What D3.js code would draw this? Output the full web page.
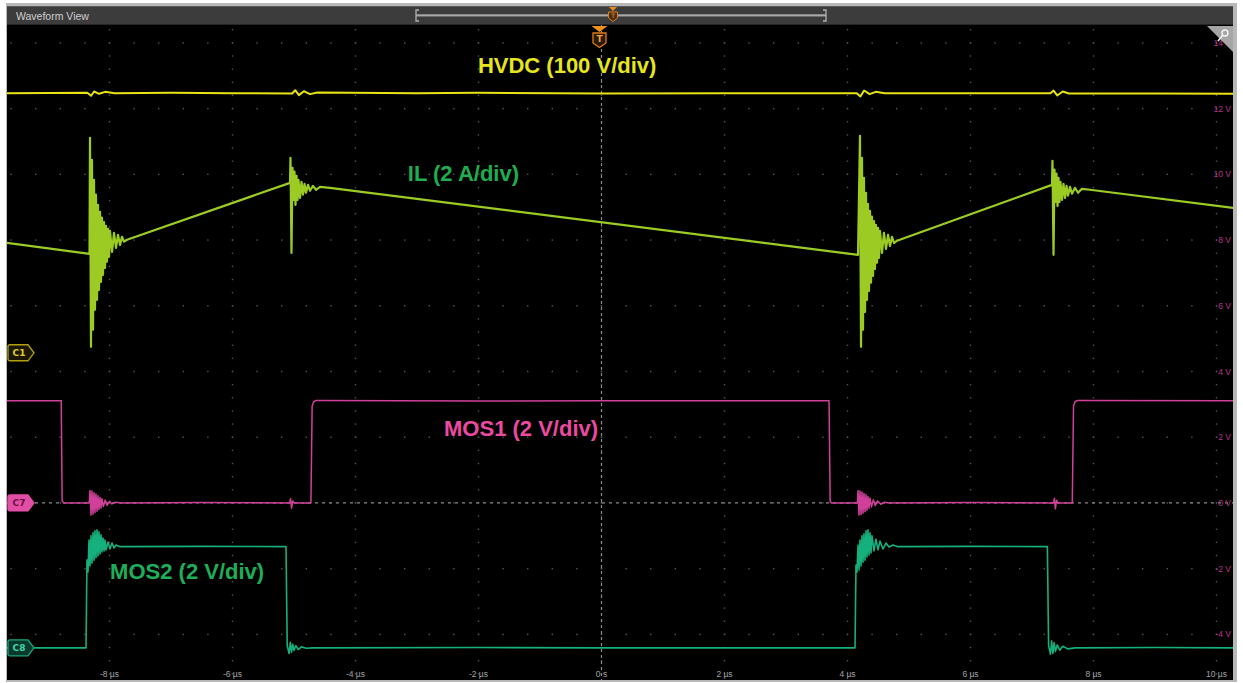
<!DOCTYPE html>
<html>
<head>
<meta charset="utf-8">
<script src="https://cdn.jsdelivr.net/npm/d3@7"></script>
<style>
  html,body{margin:0;padding:0;background:#ffffff;}
  svg{display:block;}
</style>
</head>
<body>
<svg id="chart" width="1243" height="683"></svg>
<script>
// ---------------- DATA ----------------
// time axis (µs) tick values and labels
const timeTicks = [-8, -6, -4, -2, 0, 2, 4, 6, 8, 10];
const timeTickLabels = ["-8 µs", "-6 µs", "-4 µs", "-2 µs", "0 s", "2 µs", "4 µs", "6 µs", "8 µs", "10 µs"];
// vertical axis (V, selected channel) tick values and labels
const voltTicks = [14, 12, 10, 8, 6, 4, 2, 0, -2, -4];
const voltTickLabels = ["14 V", "12 V", "10 V", "8 V", "6 V", "4 V", "2 V", "0 V", "-2 V", "-4 V"];

const seriesNames = ["HVDC (100 V/div)", "IL (2 A/div)", "MOS1 (2 V/div)", "MOS2 (2 V/div)"];
const channelNames = ["C1", "C7", "C8"];
const channelOffsets = [4.57, 0, -4.41];

// traces: [time µs, screen volts]
const hvdc = [
  [-9.70, 12.47], [-8.36, 12.48], [-8.30, 12.39], [-8.25, 12.52], [-8.17, 12.45], [-8.07, 12.51],
  [-7.92, 12.47], [-7.00, 12.48], [-6.00, 12.47], [-5.03, 12.46], [-4.98, 12.56], [-4.92, 12.41],
  [-4.84, 12.53], [-4.74, 12.44], [-4.62, 12.49], [-3.00, 12.47], [-2.00, 12.48], [0.00, 12.46],
  [2.00, 12.47], [4.15, 12.47], [4.21, 12.37], [4.27, 12.55], [4.36, 12.44], [4.46, 12.51],
  [4.60, 12.47], [6.00, 12.47], [7.30, 12.47], [7.35, 12.55], [7.41, 12.40], [7.50, 12.52],
  [7.60, 12.46], [9.00, 12.46], [10.30, 12.45]
];

const il = [
  [-9.70, 7.92], [-8.325, 7.58],
  [-8.317, 11.11], [-8.301, 4.75], [-8.285, 10.44], [-8.268, 5.27], [-8.252, 9.83], [-8.236, 5.88],
  [-8.220, 9.38], [-8.203, 6.18], [-8.187, 9.07], [-8.171, 6.48], [-8.154, 8.86], [-8.138, 6.73],
  [-8.122, 8.68], [-8.106, 6.94], [-8.089, 8.55], [-8.073, 7.15], [-8.057, 8.43], [-8.041, 7.34],
  [-8.024, 8.34], [-8.008, 7.49], [-7.992, 8.28], [-7.959, 7.64], [-7.927, 8.22], [-7.894, 7.76],
  [-7.862, 8.16], [-7.829, 7.85], [-7.797, 8.10], [-7.764, 7.95], [-7.715, 8.01],
  [-5.065, 9.74],
  [-5.057, 10.50], [-5.041, 7.61], [-5.024, 10.20], [-5.008, 9.22], [-4.992, 10.08], [-4.976, 9.07],
  [-4.959, 9.95], [-4.943, 9.22], [-4.927, 9.83], [-4.902, 9.28], [-4.878, 9.77], [-4.854, 9.38],
  [-4.829, 9.71], [-4.805, 9.44], [-4.772, 9.68], [-4.740, 9.50], [-4.691, 9.65], [-4.642, 9.53],
  [-4.577, 9.62], [-4.415, 9.59],
  [4.171, 7.55],
  [4.203, 11.17], [4.220, 4.75], [4.236, 10.50], [4.252, 5.27], [4.268, 9.89], [4.285, 5.81],
  [4.301, 9.44], [4.317, 6.18], [4.333, 9.10], [4.350, 6.45], [4.366, 8.89], [4.382, 6.70],
  [4.398, 8.71], [4.415, 6.91], [4.431, 8.58], [4.447, 7.12], [4.463, 8.46], [4.480, 7.31],
  [4.496, 8.37], [4.512, 7.46], [4.528, 8.28], [4.561, 7.61], [4.593, 8.22], [4.626, 7.73],
  [4.659, 8.16], [4.691, 7.82], [4.724, 8.10], [4.756, 7.91], [4.805, 7.98],
  [7.325, 9.68],
  [7.333, 10.41], [7.350, 7.55], [7.366, 10.14], [7.382, 9.16], [7.398, 10.02], [7.415, 9.04],
  [7.431, 9.89], [7.447, 9.16], [7.463, 9.77], [7.488, 9.22], [7.512, 9.71], [7.537, 9.28],
  [7.561, 9.65], [7.585, 9.35], [7.618, 9.62], [7.650, 9.41], [7.699, 9.59], [7.748, 9.44],
  [7.813, 9.56], [7.943, 9.53],
  [10.30, 8.97]
];

const mos1 = [
  [-9.70, 3.11], [-8.785, 3.11], [-8.770, 0.05], [-8.74, 0.00], [-8.33, 0.00],
  [-8.317, 0.38], [-8.301, -0.37], [-8.285, 0.36], [-8.268, -0.34], [-8.252, 0.31], [-8.236, -0.29],
  [-8.220, 0.27], [-8.203, -0.25], [-8.187, 0.22], [-8.171, -0.20], [-8.154, 0.17], [-8.138, -0.15],
  [-8.122, 0.13], [-8.10, -0.11], [-8.07, 0.09], [-8.04, -0.07], [-8.00, 0.05], [-7.96, -0.03],
  [-7.90, 0.02], [-7.80, 0.00], [-6.50, 0.01], [-5.07, 0.00],
  [-5.055, 0.13], [-5.04, -0.16], [-5.02, 0.06], [-5.00, 0.00],
  [-4.725, 0.00], [-4.705, 2.95], [-4.68, 3.08], [-4.64, 3.12], [-2.00, 3.10], [0.00, 3.11],
  [3.70, 3.11], [3.718, 0.05], [3.74, 0.00], [4.16, 0.00],
  [4.171, 0.38], [4.187, -0.37], [4.203, 0.36], [4.220, -0.35], [4.236, 0.33], [4.252, -0.31],
  [4.268, 0.29], [4.285, -0.27], [4.301, 0.25], [4.317, -0.22], [4.333, 0.20], [4.350, -0.17],
  [4.366, 0.15], [4.39, -0.12], [4.42, 0.10], [4.45, -0.08], [4.49, 0.06], [4.54, -0.04],
  [4.60, 0.02], [4.68, 0.00], [6.00, 0.01], [7.35, 0.00],
  [7.365, 0.14], [7.38, -0.18], [7.40, 0.08], [7.42, 0.00],
  [7.655, 0.00], [7.675, 2.95], [7.70, 3.08], [7.74, 3.12], [10.30, 3.11]
];

const mos2 = [
  [-9.70, -4.41], [-8.382, -4.41],
  [-8.366, -1.74], [-8.350, -2.10], [-8.333, -1.13], [-8.317, -1.92], [-8.301, -1.00], [-8.285, -1.83],
  [-8.268, -0.91], [-8.252, -1.74], [-8.236, -0.85], [-8.220, -1.67], [-8.203, -0.82], [-8.187, -1.61],
  [-8.171, -0.88], [-8.154, -1.55], [-8.138, -0.97], [-8.122, -1.49], [-8.106, -1.07], [-8.089, -1.46],
  [-8.073, -1.13], [-8.057, -1.43], [-8.024, -1.19], [-7.992, -1.40], [-7.959, -1.22], [-7.927, -1.37],
  [-7.894, -1.28], [-7.829, -1.33], [-6.50, -1.32],
  [-5.13, -1.33], [-5.11, -4.35], [-5.08, -4.58], [-5.06, -4.24], [-5.04, -4.54], [-5.02, -4.30],
  [-5.00, -4.49], [-4.97, -4.34], [-4.93, -4.46], [-4.88, -4.38], [-4.80, -4.42], [-4.70, -4.41],
  [-2.00, -4.40], [0.00, -4.41], [2.00, -4.41],
  [4.122, -4.41],
  [4.138, -1.89], [4.154, -2.10], [4.171, -1.28], [4.187, -2.04], [4.203, -1.13], [4.220, -1.92],
  [4.236, -1.00], [4.252, -1.80], [4.268, -0.94], [4.285, -1.74], [4.301, -0.85], [4.317, -1.64],
  [4.333, -0.82], [4.350, -1.58], [4.366, -0.91], [4.382, -1.52], [4.398, -1.00], [4.431, -1.46],
  [4.463, -1.10], [4.496, -1.43], [4.528, -1.16], [4.577, -1.40], [4.626, -1.22], [4.675, -1.34],
  [4.740, -1.28], [4.821, -1.33], [6.00, -1.32],
  [7.25, -1.33], [7.27, -4.35], [7.30, -4.60], [7.32, -4.20], [7.34, -4.58], [7.36, -4.25],
  [7.38, -4.52], [7.41, -4.32], [7.45, -4.48], [7.50, -4.36], [7.58, -4.44], [7.70, -4.41],
  [9.00, -4.40], [10.30, -4.41]
];

// ---------------- LAYOUT / STYLE ----------------
const plot = {left: 7, right: 1233, top: 25, bottom: 680};
const x = d3.scaleLinear().domain([-10, 10]).range([-13.5, 1216.5]);
const y = d3.scaleLinear().domain([-4, 12]).range([634.4, 108.6]);

const svg = d3.select("#chart");

// window frame
svg.append("rect").attr("x", 0).attr("y", 0).attr("width", 1243).attr("height", 683).attr("fill", "#ffffff");
svg.append("rect").attr("x", 6).attr("y", 3).attr("width", 1231).attr("height", 679)
  .attr("fill", "#b8b8b8");
// header bar
const hdr = svg.append("g");
hdr.append("rect").attr("x", 7).attr("y", 6).attr("width", 1226).attr("height", 19).attr("fill", "#3c3c3c");
hdr.append("rect").attr("x", 7).attr("y", 6).attr("width", 1226).attr("height", 1).attr("fill", "#5a5a5a");
hdr.append("rect").attr("x", 7).attr("y", 24).attr("width", 1226).attr("height", 1).attr("fill", "#262626");
hdr.append("text").attr("x", 16).attr("y", 19.5).text("Waveform View")
  .attr("font-family", "Liberation Sans, Arial, sans-serif").attr("font-size", 10.5)
  .attr("fill", "#cfcfcf");
// timeline overview bar
hdr.append("line").attr("x1", 416).attr("x2", 826).attr("y1", 15.5).attr("y2", 15.5)
  .attr("stroke", "#9a9a9a").attr("stroke-width", 2);
hdr.append("line").attr("x1", 416).attr("x2", 826).attr("y1", 15).attr("y2", 15)
  .attr("stroke", "#cfcfcf").attr("stroke-width", 0.6);
[[416, 1], [826, -1]].forEach(([bx, dir]) => {
  hdr.append("path").attr("d", `M${bx + 3 * dir},10 L${bx},10 L${bx},21 L${bx + 3 * dir},21`)
    .attr("fill", "none").attr("stroke", "#b0b0b0").attr("stroke-width", 1.3);
});
hdr.append("path").attr("d", "M609,7 L617,7 L613,11 Z").attr("fill", "#f08a1c");
hdr.append("path").attr("d", "M608.5,12 L617.5,12 L617.5,18 L613,21.5 L608.5,18 Z")
  .attr("fill", "#4a3010").attr("stroke", "#e07c18").attr("stroke-width", 1);
hdr.append("text").attr("x", 613).attr("y", 18).attr("text-anchor", "middle").text("T")
  .attr("font-family", "DejaVu Sans, sans-serif").attr("font-size", 6).attr("fill", "#f0a040");

// plot background
svg.append("rect").attr("x", plot.left).attr("y", plot.top)
  .attr("width", plot.right - plot.left).attr("height", plot.bottom - plot.top).attr("fill", "#000000");

svg.append("defs").append("clipPath").attr("id", "clip")
  .append("rect").attr("x", plot.left).attr("y", plot.top)
  .attr("width", plot.right - plot.left).attr("height", plot.bottom - plot.top);

const g = svg.append("g").attr("clip-path", "url(#clip)");

// grid dots
const gridCol = "#545454";
const tMin = x.invert(plot.left), tMax = x.invert(plot.right);
const vMin = y.invert(plot.bottom), vMax = y.invert(plot.top);
const dots = [];
timeTicks.forEach(t => {
  d3.range(Math.ceil(vMin / 0.4) * 0.4, vMax, 0.4).forEach(v => dots.push([t, v]));
});
voltTicks.forEach(v => {
  d3.range(Math.ceil(tMin / 0.4) * 0.4, tMax, 0.4).forEach(t => dots.push([t, v]));
});
g.append("g").selectAll("rect").data(dots).join("rect")
  .attr("x", d => x(d[0]) - 0.7).attr("y", d => y(d[1]) - 0.7)
  .attr("width", 1.4).attr("height", 1.4).attr("fill", gridCol);

// center dashed crosshair
g.append("line").attr("x1", x(0)).attr("x2", x(0)).attr("y1", plot.top).attr("y2", plot.bottom)
  .attr("stroke", "#8a8a8a").attr("stroke-width", 1.2).attr("stroke-dasharray", "3,3");
g.append("line").attr("x1", plot.left).attr("x2", plot.right).attr("y1", y(0)).attr("y2", y(0))
  .attr("stroke", "#8a8a8a").attr("stroke-width", 1.2).attr("stroke-dasharray", "3,4");

// axis labels
g.append("g").selectAll("text").data(voltTicks).join("text")
  .attr("x", 1231).attr("y", d => y(d) + 3).attr("text-anchor", "end")
  .attr("font-family", "Liberation Sans, Arial, sans-serif").attr("font-size", 8.5)
  .attr("fill", "#b8348a").text((d, i) => voltTickLabels[i]);
g.append("g").selectAll("text").data(timeTicks).join("text")
  .attr("x", d => x(d)).attr("y", 677).attr("text-anchor", "middle")
  .attr("font-family", "Liberation Sans, Arial, sans-serif").attr("font-size", 8.5)
  .attr("fill", "#a4a4a4").text((d, i) => timeTickLabels[i]);

// traces
const line = d3.line().x(d => x(d[0])).y(d => y(d[1]));
const traces = [
  {data: hvdc, color: "#e8e414", width: 2.0},
  {data: il, color: "#9ccc24", width: 2.2},
  {data: mos1, color: "#d0409a", width: 1.5},
  {data: mos2, color: "#16b07e", width: 1.6}
];
traces.forEach(tr => {
  g.append("path").datum(tr.data).attr("d", line).attr("fill", "none")
    .attr("stroke", tr.color).attr("stroke-width", tr.width)
    .attr("stroke-linejoin", "round").attr("stroke-linecap", "round");
});

// series labels
const labelStyle = [
  {t: -2.01, v: 13.07, color: "#e6e61e"},
  {t: -3.15, v: 9.80, color: "#1eae52"},
  {t: -2.56, v: 2.04, color: "#ec4aa0"},
  {t: -7.99, v: -2.31, color: "#1eae5a"}
];
g.append("g").selectAll("text").data(seriesNames).join("text")
  .attr("x", (d, i) => x(labelStyle[i].t)).attr("y", (d, i) => y(labelStyle[i].v))
  .attr("font-family", "Liberation Sans, Arial, sans-serif").attr("font-weight", "bold")
  .attr("font-size", 22).attr("fill", (d, i) => labelStyle[i].color).text(d => d);

// channel badges
const badgeStyle = [
  {fill: "#1a1800", stroke: "#b0a012", text: "#e0d020"},
  {fill: "#e24ea6", stroke: "#e24ea6", text: "#6a1040"},
  {fill: "#08392a", stroke: "#18a878", text: "#40d8a8"}
];
const badges = g.append("g").selectAll("g").data(channelNames).join("g")
  .attr("transform", (d, i) => `translate(8,${y(channelOffsets[i])})`);
badges.append("path")
  .attr("d", "M2,-8 L20,-8 L26,0 L20,8 L2,8 Q0,8 0,6 L0,-6 Q0,-8 2,-8 Z")
  .attr("fill", (d, i) => badgeStyle[i].fill).attr("stroke", (d, i) => badgeStyle[i].stroke)
  .attr("stroke-width", 1.3);
badges.append("text").attr("x", 11).attr("y", 3.5).attr("text-anchor", "middle")
  .attr("font-family", "DejaVu Sans, sans-serif").attr("font-weight", "bold").attr("font-size", 9)
  .attr("fill", (d, i) => badgeStyle[i].text).text(d => d);

// trigger marker at t = 0
const trig = svg.append("g").attr("transform", `translate(${x(0) - 2},0)`);
trig.append("path").attr("d", "M-8,26 L8,26 L0,32 Z").attr("fill", "#f0901e");
trig.append("path").attr("d", "M-6.5,33 L6.5,33 L6.5,43 L0,47.5 L-6.5,43 Z")
  .attr("fill", "#2a1a06").attr("stroke", "#e07c18").attr("stroke-width", 1.3);
trig.append("text").attr("x", 0).attr("y", 42).attr("text-anchor", "middle").text("T")
  .attr("font-family", "DejaVu Sans, sans-serif").attr("font-weight", "bold").attr("font-size", 9)
  .attr("fill", "#f0a040");

// top-right corner icon
svg.append("path").attr("d", "M1207,26 L1233,26 L1233,52 Z").attr("fill", "#a6a6a6");
svg.append("circle").attr("cx", 1225).attr("cy", 33).attr("r", 3).attr("fill", "none")
  .attr("stroke", "#f4f4f4").attr("stroke-width", 1.4);
svg.append("line").attr("x1", 1223).attr("y1", 35).attr("x2", 1218).attr("y2", 41)
  .attr("stroke", "#f4f4f4").attr("stroke-width", 1.6);
</script>
</body>
</html>
